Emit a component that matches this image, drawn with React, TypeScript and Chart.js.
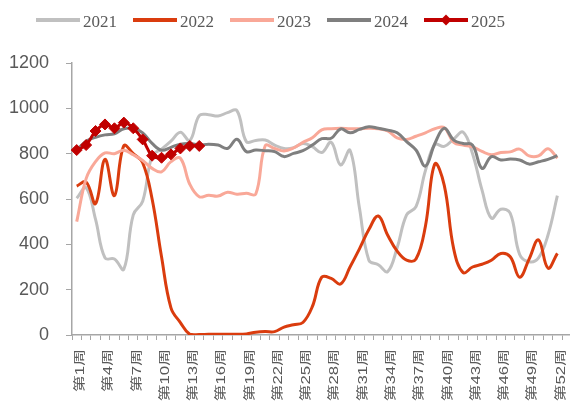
import React, { useEffect, useRef } from 'react';
import { Chart, registerables } from 'chart.js';

Chart.register(...registerables);

const weeks = [
  '第1周', '第2周', '第3周', '第4周', '第5周', '第6周', '第7周', '第8周', '第9周', '第10周',
  '第11周', '第12周', '第13周', '第14周', '第15周', '第16周', '第17周', '第18周', '第19周', '第20周',
  '第21周', '第22周', '第23周', '第24周', '第25周', '第26周', '第27周', '第28周', '第29周', '第30周',
  '第31周', '第32周', '第33周', '第34周', '第35周', '第36周', '第37周', '第38周', '第39周', '第40周',
  '第41周', '第42周', '第43周', '第44周', '第45周', '第46周', '第47周', '第48周', '第49周', '第50周',
  '第51周', '第52周', '第53周',
];

const s2021 = [
  603, 650, 510, 340, 335, 290, 530, 590, 790, 820,
  855, 895, 858, 968, 972, 966, 981, 990, 853, 858,
  860, 838, 823, 826, 845, 831, 805, 850, 750, 815,
  560, 330, 310, 280, 385, 530, 566, 725, 840, 832,
  865, 895, 800, 640, 515, 555, 537, 355, 323, 340,
  440, 615,
];

const s2022 = [
  657, 675, 580, 775, 615, 835, 800, 760, 600, 345,
  120, 55, 3, 2, 3, 3, 3, 3, 5, 12,
  15, 15, 35, 45, 55, 125, 255, 250, 225, 300,
  380, 465, 525, 440, 370, 330, 335, 480, 755, 660,
  380, 275, 300, 312, 330, 360, 345, 255, 335, 420,
  295, 360,
];

const s2023 = [
  500, 690, 765, 803, 800, 815, 795, 770, 735, 720,
  765, 780, 665, 610, 617, 613, 630, 621, 625, 622,
  835, 823, 812, 825, 850, 870, 905, 910, 912, 910,
  910, 912, 910, 900, 870, 863, 877, 892, 910, 915,
  850, 838, 830, 810, 795, 805, 808, 820, 790, 790,
  822, 780,
];

const s2024 = [
  815, 855, 872, 883, 888, 910, 912, 892, 845, 815,
  828, 842, 845, 838, 842, 838, 823, 864, 809, 816,
  813, 809, 787, 801, 813, 838, 866, 868, 909, 892,
  907, 919, 912, 904, 892, 853, 816, 745, 845, 912,
  860, 845, 838, 735, 787, 772, 776, 772, 754, 764,
  775, 791,
];

const s2025 = [816, 838, 900, 929, 912, 937, 912, 863, 791, 782, 797, 823, 834, 834];

const yTicks = [0, 200, 400, 600, 800, 1000, 1200];

const seriesNames = ['2021', '2022', '2023', '2024', '2025'];
const seriesColors = ['#C0C0C0', '#DA3C0E', '#F9A898', '#7F7F7F', '#C00000'];

const AXIS_COLOR = '#A6A6A6';
const TEXT_COLOR = '#595959';
const SANS = "'Liberation Sans', 'Noto Sans CJK SC', Arial, sans-serif";
const SERIF = "'Liberation Serif', 'Times New Roman', serif";
const LABEL_STRETCH = 1.4;
const LABEL_SHIFT_X = 4;

const legendPlugin = {
  id: 'customLegend',
  afterDraw(chart: any) {
    const ctx = chart.ctx;
    ctx.save();
    ctx.font = `17px ${SERIF}`;
    ctx.textBaseline = 'alphabetic';
    ctx.textAlign = 'left';
    let x = 28;
    const y = 12;
    chart.data.datasets.forEach((ds: any) => {
      ctx.strokeStyle = ds.borderColor;
      ctx.lineWidth = 4;
      ctx.lineCap = 'butt';
      ctx.beginPath();
      ctx.moveTo(x, y);
      ctx.lineTo(x + 44, y);
      ctx.stroke();
      if (ds.pointRadius > 0) {
        const cx = x + 22;
        const r = 5.5;
        ctx.fillStyle = ds.pointBackgroundColor;
        ctx.beginPath();
        ctx.moveTo(cx - r, y);
        ctx.lineTo(cx, y - r);
        ctx.lineTo(cx + r, y);
        ctx.lineTo(cx, y + r);
        ctx.closePath();
        ctx.fill();
      }
      ctx.fillStyle = TEXT_COLOR;
      ctx.fillText(ds.label, x + 47, y + 6.5);
      x += 47 + ctx.measureText(ds.label).width + 16;
    });
    ctx.restore();
  },
};

export default function App() {
  const canvasRef = useRef<HTMLCanvasElement | null>(null);

  useEffect(() => {
    if (!canvasRef.current) return;
    const allData = [s2021, s2022, s2023, s2024, s2025];
    const datasets = allData.map((d, i) => {
      const is2025 = i === 4;
      return {
        label: seriesNames[i],
        data: d,
        borderColor: seriesColors[i],
        backgroundColor: seriesColors[i],
        borderWidth: 3,
        tension: 0.4,
        fill: false,
        order: 4 - i,
        pointRadius: is2025 ? 5.5 : 0,
        pointHoverRadius: is2025 ? 5.5 : 0,
        pointStyle: 'rectRot',
        pointBackgroundColor: seriesColors[i],
        pointBorderColor: seriesColors[i],
        pointBorderWidth: 1,
      };
    });

    const chart = new Chart(canvasRef.current, {
      type: 'line',
      data: { labels: weeks, datasets },
      options: {
        responsive: false,
        animation: false,
        events: [],
        layout: { padding: { top: 55, right: 3, left: 0, bottom: 0 } },
        plugins: {
          legend: { display: false },
          tooltip: { enabled: false },
        },
        scales: {
          x: {
            type: 'category',
            offset: true,
            grid: {
              display: true,
              drawOnChartArea: false,
              drawTicks: true,
              tickLength: 5,
              color: AXIS_COLOR,
              offset: true,
            },
            border: { display: true, color: AXIS_COLOR, width: 1.5 },
            ticks: {
              autoSkip: false,
              maxRotation: 90,
              minRotation: 90,
              padding: 5,
              color: TEXT_COLOR,
              font: { family: SANS, size: 12 },
              callback: function (this: any, value: any, index: number) {
                return index % 3 === 0 ? this.getLabelForValue(value) : '';
              },
            },
            afterFit(scale: any) {
              scale.height = 68;
              scale.paddingLeft = 0;
              scale.paddingRight = 0;
              if (!scale.__stretched) {
                scale.__stretched = true;
                const orig = scale.drawLabels;
                scale.drawLabels = function (this: any, area: any) {
                  const ctx = this.ctx;
                  ctx.save();
                  ctx.translate(LABEL_SHIFT_X, this.top);
                  ctx.scale(1, LABEL_STRETCH);
                  ctx.translate(0, -this.top);
                  orig.call(this, area);
                  ctx.restore();
                };
              }
            },
          },
          y: {
            min: yTicks[0],
            max: yTicks[yTicks.length - 1],
            afterBuildTicks(scale: any) {
              scale.ticks = yTicks.map((v) => ({ value: v }));
            },
            grid: {
              display: true,
              drawOnChartArea: false,
              drawTicks: true,
              tickLength: 6,
              color: AXIS_COLOR,
            },
            border: { display: true, color: AXIS_COLOR, width: 1.5 },
            ticks: {
              padding: 17,
              color: TEXT_COLOR,
              font: { family: SANS, size: 18 },
              callback: (v: any) => String(v),
            },
            afterFit(scale: any) {
              scale.width = 64;
              scale.paddingTop = 0;
              scale.paddingBottom = 0;
            },
          },
        },
      },
      plugins: [legendPlugin],
    } as any);

    return () => chart.destroy();
  }, []);

  return (
    <div style={{ width: 570, height: 395, overflow: 'hidden' }}>
      <canvas ref={canvasRef} width={570} height={395} style={{ display: 'block' }} />
    </div>
  );
}
